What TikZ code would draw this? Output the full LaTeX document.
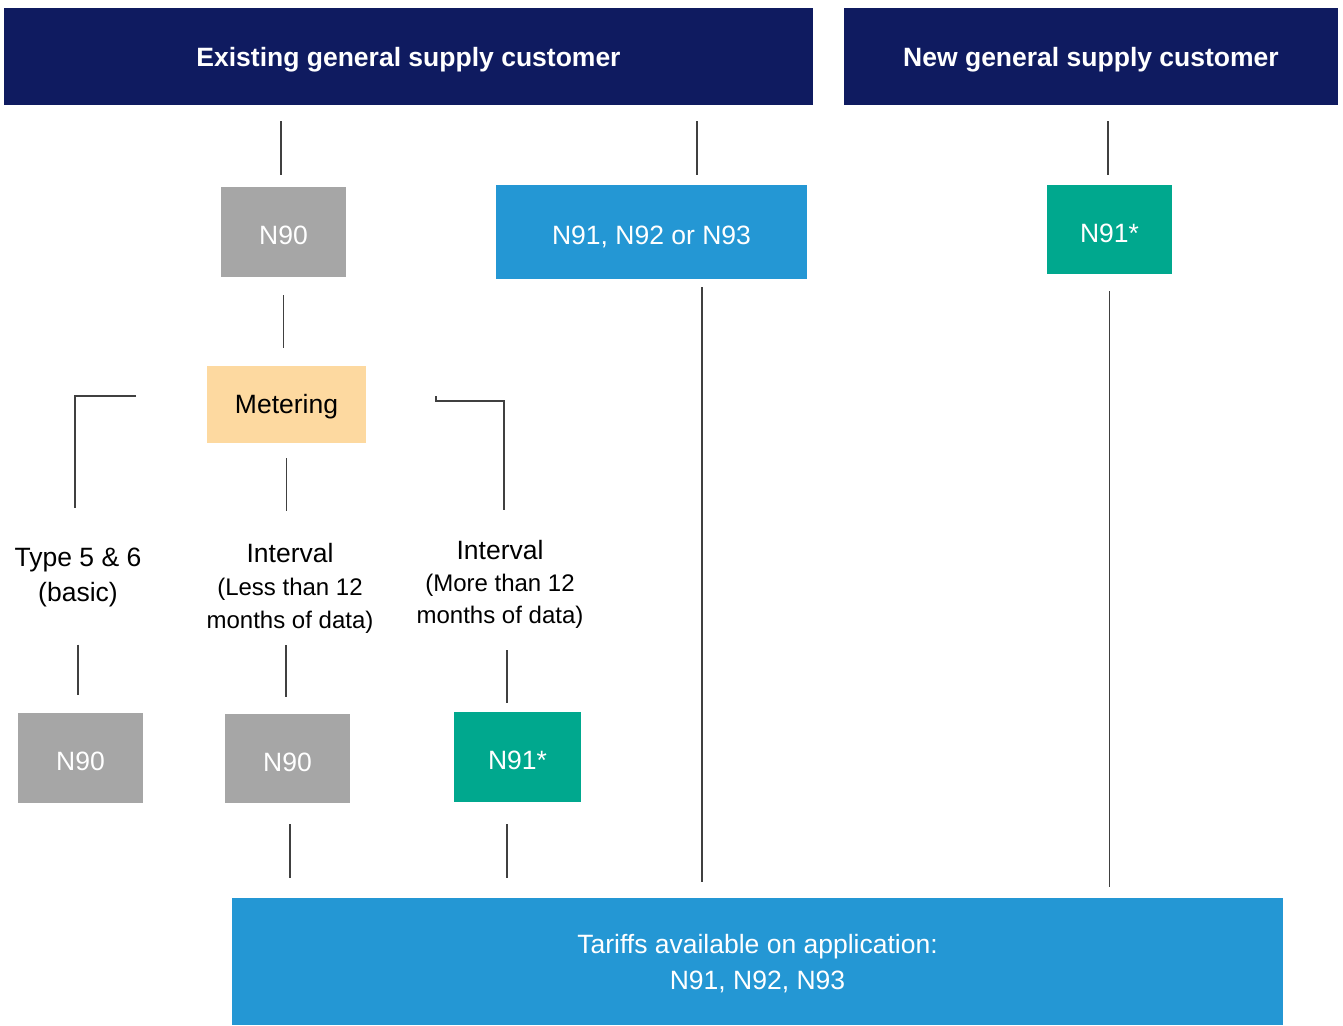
\documentclass[tikz,border=0pt]{standalone}
\usepackage{fontspec}
\setmainfont{Liberation Sans}
\usepackage{tikz}
\usetikzlibrary{calc}
\definecolor{navy}{RGB}{15,27,96}
\definecolor{tariffblue}{RGB}{36,151,212}
\definecolor{tealgreen}{RGB}{0,168,142}
\definecolor{boxgray}{RGB}{166,166,166}
\definecolor{meterorange}{RGB}{253,217,160}
\definecolor{linegray}{RGB}{64,64,64}

\begin{document}
\begin{tikzpicture}[x=1pt,y=-1pt,
        every node/.style={font=\fontsize{26.5pt}{33pt}\selectfont, inner sep=0pt, align=center},
        header/.style={fill=navy, text=white, text depth=0pt, font=\fontsize{26.5pt}{33pt}\selectfont\bfseries},
        tariffbox/.style={fill=boxgray, text=white, text height=25pt, text depth=0pt},
        conn/.style={draw=linegray, line width=1.5pt}]
        \useasboundingbox (0,0) rectangle (1343,1025);
        % headers
        \node[header, minimum width=809pt, minimum height=97pt] (hdrA) at (408.5,56.5) {Existing general supply customer};
        \node[header, minimum width=494pt, minimum height=97pt] (hdrB) at (1091,56.5) {New general supply customer};
        % first row
        \node[tariffbox, minimum width=125pt, minimum height=90pt] (nineA) at (283.5,232) {N90};
        \node[tariffbox, fill=tariffblue, minimum width=311pt, minimum height=94pt] (blueA) at (651.5,232) {N91, N92 or N93};
        \node[tariffbox, fill=tealgreen, minimum width=125pt, minimum height=89pt] (oneB) at (1109.5,229.5) {N91*};
        % metering
        \node[tariffbox, fill=meterorange, text=black, text height=18pt, minimum width=159pt, minimum height=77pt] (meter) at (286.5,404.5) {Metering};
        \node[font=\fontsize{26.5pt}{35pt}\selectfont] (typeTxt) at (78,577) {Type 5 \& 6\\(basic)};
        \node[font=\fontsize{24pt}{33pt}\selectfont] (lessTxt) at (290,588) {\fontsize{26.5pt}{33pt}\selectfont Interval\\(Less than 12\\months of data)};
        \node[font=\fontsize{24pt}{32pt}\selectfont] (moreTxt) at (500,584) {\fontsize{26.5pt}{32pt}\selectfont Interval\\(More than 12\\months of data)};
        % second row
        \node[tariffbox, minimum width=125pt, minimum height=90pt] (nineB) at (80.5,758) {N90};
        \node[tariffbox, minimum width=125pt, minimum height=89pt] (nineC) at (287.5,758.5) {N90};
        \node[tariffbox, fill=tealgreen, minimum width=127pt, minimum height=90pt] (oneC) at (517.5,757) {N91*};
        % bottom
        \node[fill=tariffblue, text=white, text depth=0pt, minimum width=1051pt, minimum height=127pt] (appl) at (757.5,961.5) {Tariffs available on application:\\[3pt]N91, N92, N93};
        % connectors
        \coordinate (leftEnd) at (136,396);
        \coordinate (rightEnd) at (436,396);
        \coordinate (rightStep) at (436,401);
        \draw[conn, shorten <=16pt, shorten >=12pt] ([xshift=-2.5pt]nineA.north |- hdrA.south) -- ([xshift=-2.5pt]nineA.north);
        \draw[conn, shorten <=16pt, shorten >=10pt] ([xshift=45.5pt]blueA.north |- hdrA.south) -- ([xshift=45.5pt]blueA.north);
        \draw[conn, shorten <=16pt, shorten >=10pt] ([xshift=-1.5pt]oneB.north |- hdrB.south) -- ([xshift=-1.5pt]oneB.north);
        \draw[conn, shorten <=18pt, shorten >=18pt] (nineA.south) -- (nineA.south |- meter.north);
        \draw[conn, shorten <=15pt, shorten >=32pt] (meter.south) -- (meter.south |- lessTxt.north);
        \draw[conn, shorten >=39pt] (leftEnd) -| ([xshift=-3pt]typeTxt.north);
        \draw[conn, shorten >=30pt] (rightEnd) -- (rightStep) -| ([xshift=4pt]moreTxt.north);
        \draw[conn, shorten <=38pt, shorten >=18pt] (typeTxt.south) -- (typeTxt.south |- nineB.north);
        \draw[conn, shorten <=12pt, shorten >=17pt] ([xshift=-4pt]lessTxt.south) -- ([xshift=-4pt]lessTxt.south |- nineC.north);
        \draw[conn, shorten <=22pt, shorten >=9pt] ([xshift=7pt]moreTxt.south) -- ([xshift=7pt]moreTxt.south |- oneC.north);
        \draw[conn, shorten <=21pt, shorten >=20pt] ([xshift=2.5pt]nineC.south) -- ([xshift=2.5pt]nineC.south |- appl.north);
        \draw[conn, shorten <=22pt, shorten >=20pt] ([xshift=-10.5pt]oneC.south) -- ([xshift=-10.5pt]oneC.south |- appl.north);
        \draw[conn, shorten <=8pt, shorten >=16pt] ([xshift=50.5pt]blueA.south) -- ([xshift=50.5pt]blueA.south |- appl.north);
        \draw[conn, shorten <=17pt, shorten >=11pt] (oneB.south) -- (oneB.south |- appl.north);
\end{tikzpicture}
\end{document}
